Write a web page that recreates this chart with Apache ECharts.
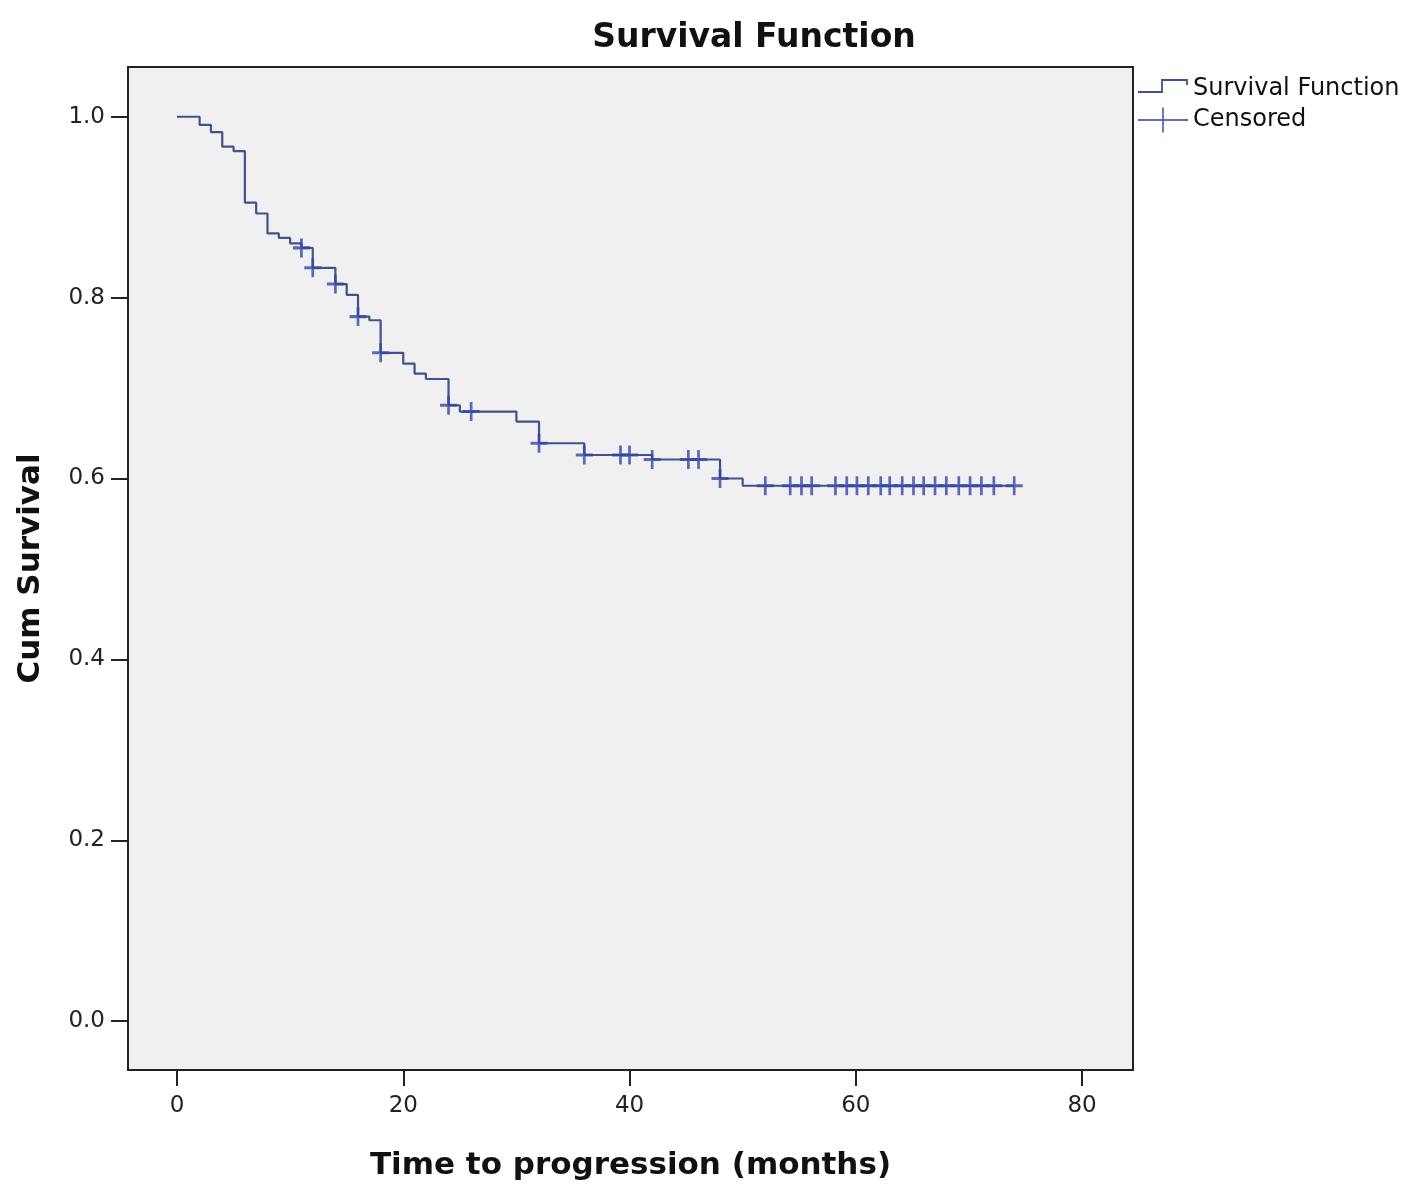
<!DOCTYPE html>
<html>
<head>
<meta charset="utf-8">
<script src="https://cdn.jsdelivr.net/npm/echarts@6/dist/echarts.min.js"></script>
<style>
  html, body { margin: 0; padding: 0; background: #ffffff; }
  #chart { width: 1417px; height: 1199px; }
</style>
</head>
<body>
<div id="chart"></div>
<script>
// Event times (months) and cumulative survival after each step
const stepTimes    = [0, 2, 3, 4, 5, 6, 7, 8, 9, 10, 11, 12, 14, 15, 16, 17, 18, 20, 21, 22, 24, 25, 30, 32, 36, 42, 48, 50, 74];
const stepSurvival = [1.0, 0.991, 0.983, 0.967, 0.962, 0.905, 0.893, 0.871, 0.866, 0.860, 0.855, 0.833, 0.815, 0.803, 0.779, 0.775, 0.739, 0.727, 0.716, 0.710, 0.681, 0.674, 0.663, 0.639, 0.626, 0.621, 0.600, 0.592, 0.592];
// Censored observation times (months)
const censoredTimes = [11, 12, 14, 16, 18, 24, 26, 32, 36, 39.2, 40, 42, 45.2, 46.1, 48,
  52, 54.2, 55.2, 56.1, 58.2, 59.2, 60.1, 61.1, 62.2, 63, 64.1, 65.1, 66, 67, 68, 69.1, 70.1, 71.1, 72.2, 74];
const xTicks = [0, 20, 40, 60, 80];
const yTicks = [0, 0.2, 0.4, 0.6, 0.8, 1.0];

function survivalAt(t) {
  let s = stepSurvival[0];
  for (let i = 0; i < stepTimes.length; i++) {
    if (stepTimes[i] <= t) s = stepSurvival[i];
  }
  return s;
}

const lineData = stepTimes.map((t, i) => [t, stepSurvival[i]]);
const censData = censoredTimes.map(t => [t, survivalAt(t)]);

const FONT = "'DejaVu Sans', 'Liberation Sans', Arial, sans-serif";
const plusPath = 'path://M8.4,0 L11.6,0 L11.6,8.4 L20,8.4 L20,11.6 L11.6,11.6 L11.6,20 L8.4,20 L8.4,11.6 L0,11.6 L0,8.4 L8.4,8.4 Z';
const specks = ' M0,0 L0.01,0 L0,0.01 Z M50,26 L49.99,26 L50,25.99 Z';
const stepIcon = 'path://M0,15.1 L23.1,15.1 L23.1,3.1 L49.9,3.1 L49.9,9 L48.1,9 L48.1,4.9 L24.9,4.9 L24.9,16.9 L0,16.9 Z' + specks;
const crossIcon = 'path://M0,12.1 L24.1,12.1 L24.1,0.5 L25.9,0.5 L25.9,12.1 L50,12.1 L50,13.9 L25.9,13.9 L25.9,25.5 L24.1,25.5 L24.1,13.9 L0,13.9 Z' + specks;

const LINE_COLOR = '#42528c';
const CENS_COLOR = '#3446a6';

const chart = echarts.init(document.getElementById('chart'));
chart.setOption({
  backgroundColor: '#ffffff',
  animation: false,
  title: {
    text: 'Survival Function',
    left: 749,
    top: 17,
    textAlign: 'center',
    textStyle: { fontFamily: FONT, fontSize: 33, fontWeight: 'bold', color: '#111' }
  },
  legend: {
    orient: 'vertical',
    left: 1138,
    top: 76,
    padding: 0,
    itemWidth: 50,
    itemHeight: 26,
    itemGap: 5,
    selectedMode: false,
    textStyle: { fontFamily: FONT, fontSize: 24, color: '#111' },
    data: [
      { name: 'Survival Function', icon: stepIcon, itemStyle: { color: LINE_COLOR, borderWidth: 0 } },
      { name: 'Censored', icon: crossIcon, itemStyle: { color: CENS_COLOR, borderWidth: 0 } }
    ]
  },
  grid: {
    left: 128, right: 284, top: 67, bottom: 129,
    show: true,
    backgroundColor: '#f0f0f0',
    borderColor: '#222',
    borderWidth: 2
  },
  xAxis: {
    type: 'value',
    min: -4.33,
    max: 84.5,
    name: 'Time to progression (months)',
    nameLocation: 'middle',
    nameGap: 80,
    nameTextStyle: { fontFamily: FONT, fontSize: 31, fontWeight: 'bold', color: '#111' },
    axisLine: { show: false, onZero: false },
    splitLine: { show: false },
    axisTick: { show: true, inside: false, length: 16, customValues: xTicks, lineStyle: { color: '#222', width: 2 } },
    axisLabel: { customValues: xTicks, margin: 25, fontFamily: FONT, fontSize: 23, color: '#222' }
  },
  yAxis: {
    type: 'value',
    min: -0.054,
    max: 1.055,
    name: 'Cum Survival',
    nameLocation: 'middle',
    nameGap: 82,
    nameRotate: 90,
    nameTextStyle: { fontFamily: FONT, fontSize: 31, fontWeight: 'bold', color: '#111' },
    axisLine: { show: false, onZero: false },
    splitLine: { show: false },
    axisTick: { show: true, inside: false, length: 17, customValues: yTicks, lineStyle: { color: '#222', width: 2 } },
    axisLabel: { customValues: yTicks, margin: 23, fontFamily: FONT, fontSize: 23, color: '#222',
      formatter: v => v.toFixed(1) }
  },
  series: [
    {
      name: 'Survival Function',
      type: 'line',
      step: 'end',
      data: lineData,
      showSymbol: false,
      symbol: 'none',
      lineStyle: { color: LINE_COLOR, width: 2.2 },
      itemStyle: { color: LINE_COLOR },
      z: 2
    },
    {
      name: 'Censored',
      type: 'scatter',
      data: censData,
      symbol: plusPath,
      symbolSize: [17, 19],
      itemStyle: { color: CENS_COLOR },
      z: 3
    }
  ]
});
</script>
</body>
</html>
